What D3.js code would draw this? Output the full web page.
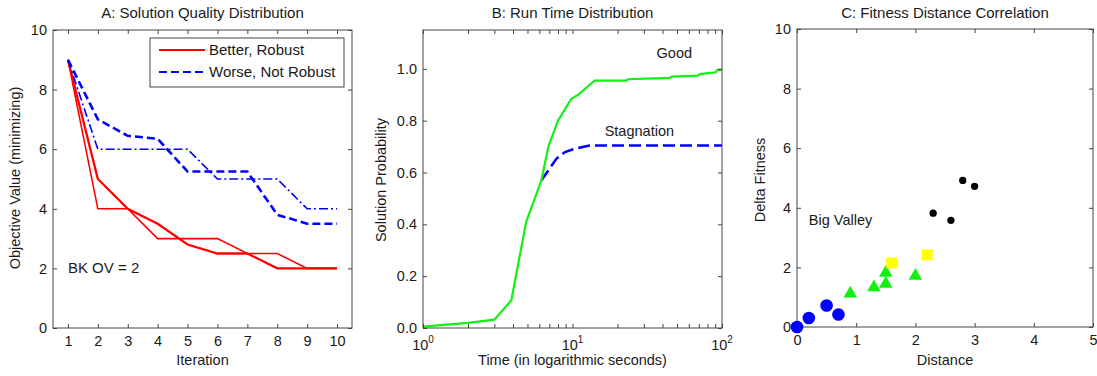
<!DOCTYPE html>
<html>
<head>
<meta charset="utf-8">
<script src="https://cdn.jsdelivr.net/npm/d3@7"></script>
<style>
	body { margin: 0; background: #fff; }
	svg text { font-family: "Liberation Sans", Arial, sans-serif; fill: #1a1a1a; }
</style>
</head>
<body>
<svg id="chart" width="1097" height="376"></svg>
<script>
	// ---- data ----
	var iterations = [1, 2, 3, 4, 5, 6, 7, 8, 9, 10];
	var betterRunA = [9, 4, 4, 3, 3, 3, 2.5, 2.5, 2, 2];
	var betterRunB = [9, 5, 4, 3.5, 2.8, 2.5, 2.5, 2, 2, 2];
	var worseRunA = [9, 7, 6.45, 6.35, 5.25, 5.25, 5.25, 3.8, 3.5, 3.5];
	var worseRunB = [9, 6, 6, 6, 6, 5, 5, 5, 4, 4];
	var legendLabels = ["Better, Robust", "Worse, Not Robust"];

	var goodTime = [1, 2, 3, 3.9, 4.9, 6.2, 6.9, 8, 9.8, 10.9, 14.1, 22.9, 23.5, 44.7, 46, 69, 71, 91, 93, 100];
	var goodProb = [0.005, 0.02, 0.032, 0.107, 0.41, 0.57, 0.70, 0.80, 0.884, 0.90, 0.955, 0.955, 0.96, 0.965, 0.97, 0.974, 0.98, 0.987, 0.996, 0.996];
	var stagTime = [6.2, 7.8, 8.9, 10.1, 13, 100];
	var stagProb = [0.57, 0.653, 0.679, 0.69, 0.704, 0.704];

	var blueDist = [0, 0.2, 0.5, 0.7];
	var blueFit = [0, 0.3, 0.72, 0.42];
	var greenDist = [0.9, 1.3, 1.5, 1.5, 2.0];
	var greenFit = [1.12, 1.33, 1.82, 1.45, 1.72];
	var yellowDist = [1.6, 2.2];
	var yellowFit = [2.15, 2.42];
	var blackDist = [2.3, 2.6, 2.8, 3.0];
	var blackFit = [3.82, 3.58, 4.92, 4.72];

	var svg = d3.select("#chart");
	var axisColor = "#444";

	// draws the MATLAB style box with inward ticks on all four sides
	function drawBox(g, x, y, xTicks, yTicks, xFormat, yFormat) {
		var w = x.range()[1] - x.range()[0];
		var h = y.range()[0] - y.range()[1];
		var bottom = g.append("g").attr("transform", "translate(0," + y.range()[0] + ")")
			.call(d3.axisBottom(x).tickValues(xTicks).tickSize(-4).tickPadding(8).tickFormat(xFormat));
		var top = g.append("g").attr("transform", "translate(0," + y.range()[1] + ")")
			.call(d3.axisTop(x).tickValues(xTicks).tickSize(-4).tickFormat(""));
		var left = g.append("g").attr("transform", "translate(" + x.range()[0] + ",0)")
			.call(d3.axisLeft(y).tickValues(yTicks).tickSize(-4).tickPadding(6).tickFormat(yFormat));
		var right = g.append("g").attr("transform", "translate(" + x.range()[1] + ",0)")
			.call(d3.axisRight(y).tickValues(yTicks).tickSize(-4).tickFormat(""));
		[bottom, top, left, right].forEach(function(a) {
			a.selectAll(".domain").remove();
			a.selectAll("line").attr("stroke", axisColor);
			a.selectAll("text").style("font-size", "14.5px").attr("fill", "#1a1a1a");
		});
		g.append("rect")
			.attr("x", x.range()[0]).attr("y", y.range()[1])
			.attr("width", w).attr("height", h)
			.attr("fill", "none").attr("stroke", axisColor).attr("stroke-width", 1);
	}

	function title(g, x, text) {
		g.append("text").attr("x", (x.range()[0] + x.range()[1]) / 2).attr("y", 18)
			.attr("text-anchor", "middle").style("font-size", "15px").text(text);
	}
	function xLabel(g, x, text) {
		g.append("text").attr("x", (x.range()[0] + x.range()[1]) / 2).attr("y", 365)
			.attr("text-anchor", "middle").style("font-size", "14.5px").text(text);
	}
	function yLabel(g, px, py, text) {
		g.append("text").attr("transform", "translate(" + px + "," + py + ") rotate(-90)")
			.attr("text-anchor", "middle").style("font-size", "14.5px").text(text);
	}

	// ---- panel A ----
	(function() {
		var g = svg.append("g");
		var x = d3.scaleLinear().domain([0.5, 10.5]).range([53, 352]);
		var y = d3.scaleLinear().domain([0, 10]).range([328, 30]);
		var line = d3.line().x(function(d, i) { return x(iterations[i]); }).y(function(d) { return y(d); });

		var runs = [
			{ v: betterRunA, color: "#ff0000", w: 1.6, dash: null },
			{ v: betterRunB, color: "#ff0000", w: 2.3, dash: null },
			{ v: worseRunB, color: "#0000ff", w: 1.6, dash: "9,3,2,3" },
			{ v: worseRunA, color: "#0000ff", w: 2.6, dash: "8,4" }
		];
		runs.forEach(function(r) {
			g.append("path").attr("d", line(r.v)).attr("fill", "none")
				.attr("stroke", r.color).attr("stroke-width", r.w)
				.attr("stroke-dasharray", r.dash);
		});

		g.append("text").attr("x", x(1)).attr("y", y(2) + 5).style("font-size", "15px").text("BK OV = 2");

		drawBox(g, x, y, iterations, [0, 2, 4, 6, 8, 10], d3.format("d"), d3.format("d"));
		title(g, x, "A: Solution Quality Distribution");
		xLabel(g, x, "Iteration");
		yLabel(g, 20, 178, "Objective Value (minimizing)");

		// legend
		var lg = g.append("g");
		lg.append("rect").attr("x", 150).attr("y", 38).attr("width", 194).attr("height", 49)
			.attr("fill", "#fff").attr("stroke", axisColor);
		var styles = [{ color: "#ff0000", dash: null }, { color: "#0000ff", dash: "8,4" }];
		legendLabels.forEach(function(lab, i) {
			var ly = 50 + i * 22;
			lg.append("line").attr("x1", 159).attr("x2", 205).attr("y1", ly).attr("y2", ly)
				.attr("stroke", styles[i].color).attr("stroke-width", 2)
				.attr("stroke-dasharray", styles[i].dash);
			lg.append("text").attr("x", 209).attr("y", ly + 5).style("font-size", "15px").text(lab);
		});
	})();

	// ---- panel B ----
	(function() {
		var g = svg.append("g");
		var x = d3.scaleLog().domain([1, 100]).range([423, 722]);
		var y = d3.scaleLinear().domain([0, 1.15]).range([328, 30]);

		var good = goodTime.map(function(t, i) { return [t, goodProb[i]]; });
		var stag = stagTime.map(function(t, i) { return [t, stagProb[i]]; });
		var line = d3.line().x(function(d) { return x(d[0]); }).y(function(d) { return y(d[1]); });

		g.append("path").attr("d", line(stag)).attr("fill", "none")
			.attr("stroke", "#0000ff").attr("stroke-width", 2.5).attr("stroke-dasharray", "12,5");
		g.append("path").attr("d", line(good)).attr("fill", "none")
			.attr("stroke", "#11f011").attr("stroke-width", 2.2);

		var minor = [];
		[1, 10].forEach(function(dec) {
			for (var k = 2; k <= 9; k++) minor.push(dec * k);
		});
		var xTicks = [1, 10, 100].concat(minor);
		drawBox(g, x, y, xTicks, [0, 0.2, 0.4, 0.6, 0.8, 1.0], function() { return ""; }, d3.format(".1f"));

		// power-of-ten tick labels
		[0, 1, 2].forEach(function(p) {
			var t = g.append("text").attr("x", x(Math.pow(10, p))).attr("y", 350)
				.attr("text-anchor", "middle").style("font-size", "14.5px");
			t.append("tspan").text("10");
			t.append("tspan").attr("dy", -7).style("font-size", "10px").text(p);
		});

		g.append("text").attr("x", x(48)).attr("y", y(1.06) + 5).attr("text-anchor", "middle")
			.style("font-size", "14.5px").text("Good");
		g.append("text").attr("x", x(28)).attr("y", y(0.76) + 5).attr("text-anchor", "middle")
			.style("font-size", "14.5px").text("Stagnation");

		title(g, x, "B: Run Time Distribution");
		xLabel(g, x, "Time (in logarithmic seconds)");
		yLabel(g, 386, 180, "Solution Probability");
	})();

	// ---- panel C ----
	(function() {
		var g = svg.append("g");
		var x = d3.scaleLinear().domain([0, 5]).range([797, 1093]);
		var y = d3.scaleLinear().domain([0, 10]).range([327, 29]);

		drawBox(g, x, y, [0, 1, 2, 3, 4, 5], [0, 2, 4, 6, 8, 10], d3.format("d"), d3.format("d"));

		g.append("text").attr("x", x(0.2)).attr("y", y(3.6) + 5).style("font-size", "14.5px").text("Big Valley");

		var groups = [
			{ d: blueDist, f: blueFit, color: "#0000ff", shape: d3.symbolCircle, size: 125 },
			{ d: greenDist, f: greenFit, color: "#11f011", shape: d3.symbolTriangle, size: 80 },
			{ d: yellowDist, f: yellowFit, color: "#ffff00", shape: d3.symbolSquare, size: 121 },
			{ d: blackDist, f: blackFit, color: "#000000", shape: d3.symbolCircle, size: 42 }
		];
		groups.forEach(function(grp) {
			var pts = grp.d.map(function(v, i) { return [v, grp.f[i]]; });
			g.selectAll(null).data(pts).enter().append("path")
				.attr("transform", function(p) { return "translate(" + x(p[0]) + "," + y(p[1]) + ")"; })
				.attr("d", d3.symbol().type(grp.shape).size(grp.size))
				.attr("fill", grp.color);
		});

		title(g, x, "C: Fitness Distance Correlation");
		xLabel(g, x, "Distance");
		yLabel(g, 765, 180, "Delta Fitness");
	})();
</script>
</body>
</html>
